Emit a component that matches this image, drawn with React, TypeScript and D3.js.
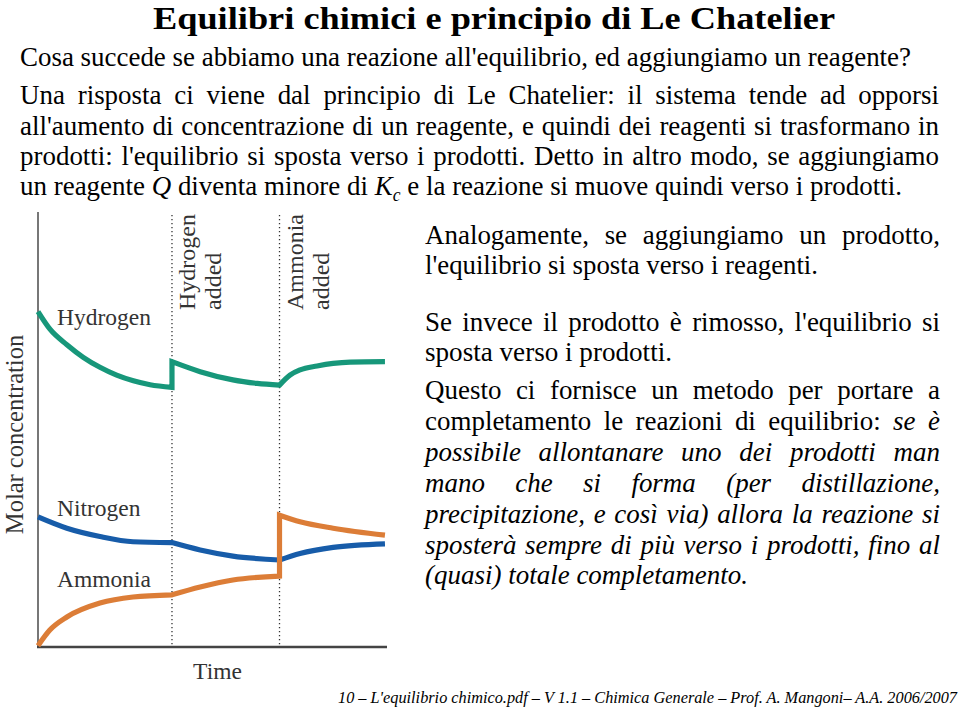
import React from "react";
import * as d3 from "d3";

// ---------- chart data ----------
const timeDomain = [0, 100];
const concDomain = [0, 10];
const eventTimes = [38.5, 69.4];
const eventLabels = [
  ["Hydrogen", "added"],
  ["Ammonia", "added"],
];

const hydrogenSegments: [number, number][][] = [
  [[0, 7.71], [3.5, 7.3], [8.3, 6.95], [13, 6.66], [17.8, 6.43], [22.6, 6.25], [27.4, 6.12], [32.2, 6.03], [38.5, 5.97]],
  [[38.5, 6.56], [46.6, 6.33], [56, 6.14], [63, 6.06], [69.4, 6.02]],
  [[69.4, 6.02], [72.4, 6.25], [75.3, 6.37], [80.2, 6.46], [84.8, 6.52], [89.7, 6.55], [99.7, 6.56]],
];
const nitrogenSegments: [number, number][][] = [
  [[0, 2.99], [8.3, 2.73], [17.8, 2.54], [27.3, 2.42], [38.5, 2.4]],
  [[38.5, 2.4], [46.6, 2.23], [56, 2.09], [69.4, 2.0]],
  [[69.4, 2.0], [75.3, 2.15], [84.8, 2.29], [99.7, 2.37]],
];
const ammoniaSegments: [number, number][][] = [
  [[0, 0.03], [3.4, 0.39], [8.3, 0.69], [17.8, 1.01], [27.3, 1.15], [38.5, 1.2]],
  [[38.5, 1.2], [46.6, 1.38], [56, 1.54], [69.4, 1.63]],
  [[69.4, 3.03], [75.3, 2.88], [84.8, 2.73], [99.7, 2.57]],
];
const seriesNames = ["Hydrogen", "Nitrogen", "Ammonia"];
const seriesColors = ["#17977a", "#175ca9", "#dc7d37"];
const seriesLabelY = [7.4, 3.01, 1.38];
const xAxisTitle = "Time";
const yAxisTitle = "Molar concentration";

// ---------- slide text ----------
const titleText = "Equilibri chimici e principio di Le Chatelier";
const footerText =
  "10 – L'equilibrio chimico.pdf – V 1.1 – Chimica Generale – Prof. A. Mangoni– A.A. 2006/2007";

type Run = { t: string; i?: boolean; sub?: boolean };
type Line = { runs: Run[]; y: number; x0: number; x1: number; justify: boolean };

const topLines: Line[] = [
  { runs: [{ t: "Cosa succede se abbiamo una reazione all'equilibrio, ed aggiungiamo un reagente?" }], y: 66, x0: 20, x1: 911, justify: false },
  { runs: [{ t: "Una risposta ci viene dal principio di Le Chatelier: il sistema tende ad opporsi" }], y: 104, x0: 20, x1: 939, justify: true },
  { runs: [{ t: "all'aumento di concentrazione di un reagente, e quindi dei reagenti si trasformano in" }], y: 135, x0: 20, x1: 939, justify: true },
  { runs: [{ t: "prodotti: l'equilibrio si sposta verso i prodotti. Detto in altro modo, se aggiungiamo" }], y: 165, x0: 20, x1: 939, justify: true },
  {
    runs: [
      { t: "un reagente " },
      { t: "Q", i: true },
      { t: " diventa minore di " },
      { t: "K", i: true },
      { t: "c", i: true, sub: true },
      { t: " e la reazione si muove quindi verso i prodotti." },
    ],
    y: 195, x0: 20, x1: 902, justify: false,
  },
];

const rightLines: Line[] = [
  { runs: [{ t: "Analogamente, se aggiungiamo un prodotto," }], y: 244, x0: 425, x1: 940, justify: true },
  { runs: [{ t: "l'equilibrio si sposta verso i reagenti." }], y: 274, x0: 425, x1: 818, justify: false },
  { runs: [{ t: "Se invece il prodotto è rimosso, l'equilibrio si" }], y: 331, x0: 425, x1: 940, justify: true },
  { runs: [{ t: "sposta verso i prodotti." }], y: 361, x0: 425, x1: 672, justify: false },
  { runs: [{ t: "Questo ci fornisce un metodo per portare a" }], y: 399, x0: 425, x1: 940, justify: true },
  { runs: [{ t: "completamento le reazioni di equilibrio: " }, { t: "se è", i: true }], y: 430, x0: 425, x1: 940, justify: true },
  { runs: [{ t: "possibile allontanare uno dei prodotti man", i: true }], y: 461, x0: 425, x1: 940, justify: true },
  { runs: [{ t: "mano che si forma (per distillazione,", i: true }], y: 492, x0: 425, x1: 940, justify: true },
  { runs: [{ t: "precipitazione, e così via) allora la reazione si", i: true }], y: 523, x0: 425, x1: 940, justify: true },
  { runs: [{ t: "sposterà sempre di più verso i prodotti, fino al", i: true }], y: 554, x0: 425, x1: 940, justify: true },
  { runs: [{ t: "(quasi) totale completamento.", i: true }], y: 584, x0: 425, x1: 748, justify: false },
];

const FONT = "'Liberation Serif', 'Times New Roman', serif";

let _ctx: CanvasRenderingContext2D | null = null;
function measure(t: string, size: number, italic: boolean, bold = false) {
  if (!_ctx) _ctx = document.createElement("canvas").getContext("2d");
  _ctx!.font = `${italic ? "italic " : ""}${bold ? "bold " : ""}${size}px "Liberation Serif"`;
  return _ctx!.measureText(t).width;
}

function toWords(runs: Run[]) {
  const words: Run[][] = [[]];
  runs.forEach((r) => {
    const parts = r.t.split(" ");
    parts.forEach((p, k) => {
      if (k > 0) words.push([]);
      if (p) words[words.length - 1].push({ ...r, t: p });
    });
  });
  return words.filter((w) => w.length);
}

function wordWidth(w: Run[], size: number) {
  return w.reduce((s, r) => s + measure(r.t, r.sub ? size * 0.65 : size, !!r.i), 0);
}

function naturalWidth(line: Line, size: number) {
  const words = toWords(line.runs);
  const sp = measure(" ", size, false);
  return d3.sum(words, (w) => wordWidth(w, size)) + sp * (words.length - 1);
}

function renderLines(lines: Line[], size: number, keyPrefix: string) {
  const refs = lines.filter((l) => !l.justify);
  const sxBlock = d3.mean(refs, (l) => (l.x1 - l.x0) / naturalWidth(l, size)) || 1;
  const out: React.ReactElement[] = [];
  lines.forEach((line, li) => {
    const words = toWords(line.runs);
    const ww = words.map((w) => wordWidth(w, size));
    const sumW = d3.sum(ww);
    const sp = measure(" ", size, false);
    let sx: number, gap: number;
    if (line.justify) {
      sx = sxBlock;
      gap = (line.x1 - line.x0 - sumW * sx) / (words.length - 1);
    } else {
      sx = (line.x1 - line.x0) / (sumW + sp * (words.length - 1));
      gap = sp * sx;
    }
    let x = line.x0;
    words.forEach((w, wi) => {
      w.forEach((r, ri) => {
        const fs = r.sub ? size * 0.65 : size;
        const rw = measure(r.t, fs, !!r.i) * sx;
        out.push(
          <text
            key={`${keyPrefix}-${li}-${wi}-${ri}`}
            x={x}
            y={line.y + (r.sub ? 6 : 0)}
            fontSize={fs}
            fontStyle={r.i ? "italic" : "normal"}
            textLength={rw}
            lengthAdjust="spacingAndGlyphs"
          >
            {r.t}
          </text>
        );
        x += rw;
      });
      x += gap;
    });
  });
  return out;
}

export default function App() {
  const x = d3.scaleLinear().domain(timeDomain).range([38, 386]);
  const y = d3.scaleLinear().domain(concDomain).range([647, 212]);
  const line = d3
    .line<[number, number]>()
    .x((d) => x(d[0]))
    .y((d) => y(d[1]))
    .curve(d3.curveMonotoneX);

  const pathFor = (segs: [number, number][][]) =>
    segs
      .map((s, i) => {
        const p = line(s) || "";
        return i === 0 ? p : "L" + p.slice(1);
      })
      .join("");

  const allSeries = [hydrogenSegments, nitrogenSegments, ammoniaSegments];
  const x0 = x.range()[0];
  const xEnd = x.range()[1] + 1;
  const yBase = y(0);
  const yTop = y.range()[1];

  const footerW = 619;
  const footerSize = Math.min(18, (18 * footerW) / measure(footerText, 18, true));
  const footerScaleY = 17.5 / footerSize;

  return (
    <svg
      width={960}
      height={710}
      style={{ position: "absolute", left: 0, top: 0, background: "#fff" }}
      fontFamily={FONT}
    >
      <rect width={960} height={710} fill="#fff" />
      {/* title */}
      <text x={153} y={29} fontSize={32.5} fontWeight="bold" textLength={682} lengthAdjust="spacingAndGlyphs">
        {titleText}
      </text>
      {renderLines(topLines, 27.5, "top")}
      {renderLines(rightLines, 27, "right")}
      <g transform={`translate(338,703) scale(1,${footerScaleY})`}>
        <text x={0} y={0} fontSize={footerSize} fontStyle="italic" textLength={footerW} lengthAdjust="spacingAndGlyphs">
          {footerText}
        </text>
      </g>

      {/* chart */}
      <g>
        {eventTimes.map((t, i) => (
          <line
            key={"ev" + i}
            x1={x(t)}
            x2={x(t)}
            y1={yTop + 3}
            y2={yBase}
            stroke="#333"
            strokeWidth={1.3}
            strokeDasharray="1.3 2.7"
          />
        ))}
        <line x1={x0} x2={x0} y1={yTop} y2={yBase} stroke="#555" strokeWidth={1.6} />
        <line x1={x0 - 1} x2={xEnd} y1={yBase} y2={yBase} stroke="#444" strokeWidth={2.6} />
        {allSeries.map((segs, i) => (
          <path
            key={"s" + i}
            d={pathFor(segs)}
            fill="none"
            stroke={seriesColors[i]}
            strokeWidth={5.2}
            strokeLinejoin="miter"
          />
        ))}
        {seriesNames.map((n, i) => (
          <text key={"lab" + i} x={x0 + 19} y={y(seriesLabelY[i])} fontSize={23.5} fill="#333">
            {n}
          </text>
        ))}
        {eventLabels.map((lines, i) =>
          lines.map((l, j) => (
            <text
              key={`el${i}${j}`}
              transform={`translate(${x(eventTimes[i]) + 23 + j * 26},310) rotate(-90)`}
              fontSize={24}
              fill="#333"
            >
              {l}
            </text>
          ))
        )}
        <text x={(x0 + xEnd) / 2 + 5} y={679} fontSize={23.5} fill="#333" textAnchor="middle">
          {xAxisTitle}
        </text>
        <text
          transform={`translate(23,${(yTop + yBase) / 2 + 5}) rotate(-90)`}
          fontSize={24.5}
          fill="#333"
          textAnchor="middle"
        >
          {yAxisTitle}
        </text>
      </g>
    </svg>
  );
}
